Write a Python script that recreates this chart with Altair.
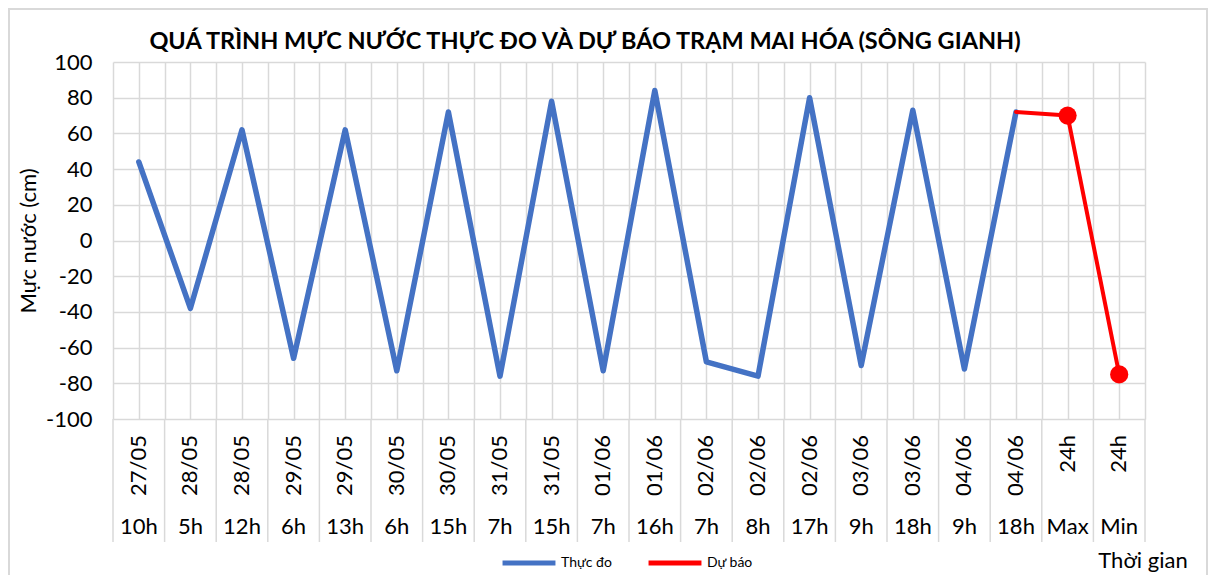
import altair as alt
import pandas as pd

dates = ["27/05", "28/05", "28/05", "29/05", "29/05", "30/05", "30/05", "31/05", "31/05",
         "01/06", "01/06", "02/06", "02/06", "02/06", "03/06", "03/06", "04/06", "04/06",
         "24h", "24h"]
hours = ["10h", "5h", "12h", "6h", "13h", "6h", "15h", "7h", "15h",
         "7h", "16h", "7h", "8h", "17h", "9h", "18h", "9h", "18h",
         "Max", "Min"]
observed = [44, -38, 62, -66, 62, -73, 72, -76, 78, -73, 84, -68, -76, 80, -70, 73, -72, 72]
forecast = [72, 70, -75]          # 04/06 18h, Max 24h, Min 24h
y_ticks = [-100, -80, -60, -40, -20, 0, 20, 40, 60, 80, 100]

FONT = "Lato"
GRID = "#d9d9d9"
BLUE = "#4472C4"
RED = "#FF0000"

n = len(dates)
idx = list(range(n))
cats = pd.DataFrame({"i": idx, "date": dates, "hour": hours})
obs_df = pd.DataFrame({"i": idx[:len(observed)], "value": observed, "series": "Thực đo"})
fc_start = len(observed) - 1
fc_df = pd.DataFrame({"i": idx[fc_start:fc_start + len(forecast)], "value": forecast, "series": "Dự báo"})
pts_df = fc_df.iloc[1:]
bounds = pd.DataFrame({"i": [k - 0.5 for k in range(n + 1)]})

W, H = 1032, 357

x_scale = alt.Scale(domain=[-0.5, n - 0.5], nice=False, zero=False)
x_axis = alt.Axis(values=[k * 0.5 - 0.5 for k in range(2 * n + 1)], grid=True, labels=False,
                  ticks=False, domain=False, title=None, gridColor=GRID, gridWidth=1.5)
X = alt.X("i:Q", scale=x_scale, axis=x_axis)

y_scale = alt.Scale(domain=[-100, 100], nice=False)
y_axis = alt.Axis(values=y_ticks, grid=True, gridColor=GRID, gridWidth=1.5, ticks=False,
                  domain=False, labelFont=FONT, labelFontSize=22, labelColor="#000000",
                  labelExpr="'' + datum.value",
                  labelPadding=21, title="Mực nước (cm)", titleFont=FONT, titleFontSize=22,
                  titleFontWeight="normal", titleColor="#000000", titleAngle=-90,
                  titleX=-85, titleY=H / 2, titleAlign="center", titleBaseline="middle")
Y = alt.Y("value:Q", scale=y_scale, axis=y_axis)

color = alt.Color("series:N",
                  scale=alt.Scale(domain=["Thực đo", "Dự báo"], range=[BLUE, RED]),
                  legend=alt.Legend(title=None, orient="none", direction="horizontal",
                                    legendX=387, legendY=472, symbolType="stroke",
                                    symbolSize=2800, symbolStrokeWidth=5,
                                    labelFont=FONT, labelFontSize=14, labelColor="#000000",
                                    labelOffset=3, columnPadding=26))

border = alt.Chart(alt.Data(values=[{}])).mark_rect(fillOpacity=0, stroke=GRID, strokeWidth=2).encode(
    x=alt.value(-104), x2=alt.value(W + 62), y=alt.value(-53), y2=alt.value(H + 200))

seps = alt.Chart(bounds).mark_rule(color=GRID, strokeWidth=1.5).encode(
    x=X, y=alt.value(H), y2=alt.value(480))

date_text = alt.Chart(cats).mark_text(angle=270, align="right", baseline="middle",
                                      font=FONT, fontSize=22, color="#000000").encode(
    x=X, y=alt.value(373), text="date:N")

hour_text = alt.Chart(cats).mark_text(align="center", baseline="middle",
                                      font=FONT, fontSize=22, color="#000000").encode(
    x=X, y=alt.value(465), text="hour:N")

obs_line = alt.Chart(obs_df).mark_line(strokeWidth=5.5, strokeJoin="round", strokeCap="round").encode(
    x=X, y=Y, color=color)

fc_line = alt.Chart(fc_df).mark_line(strokeWidth=4, strokeJoin="round", strokeCap="round").encode(
    x=X, y=Y, color=color)

fc_pts = alt.Chart(pts_df).mark_circle(size=330, opacity=1, color=RED).encode(x=X, y=Y)

title = alt.Chart(alt.Data(values=[{}])).mark_text(
    text="QUÁ TRÌNH MỰC NƯỚC THỰC ĐO VÀ DỰ BÁO TRẠM MAI HÓA (SÔNG GIANH)",
    font=FONT, fontSize=23.5, fontWeight="bold", color="#000000", align="center", baseline="middle").encode(
    x=alt.value(472), y=alt.value(-20))

xtitle = alt.Chart(alt.Data(values=[{}])).mark_text(
    text="Thời gian", font=FONT, fontSize=22, color="#000000", align="center", baseline="middle").encode(
    x=alt.value(1030), y=alt.value(499))

chart = alt.layer(border, seps, obs_line, fc_line, fc_pts, date_text, hour_text, title, xtitle).properties(
    width=W, height=H,
    autosize=alt.AutoSizeParams(type="none"),
    padding={"left": 105, "top": 54, "right": 63, "bottom": 156},
    background="white",
).configure_view(stroke=None)

chart.save("out.html", embed_options={"renderer": "svg", "actions": False})
